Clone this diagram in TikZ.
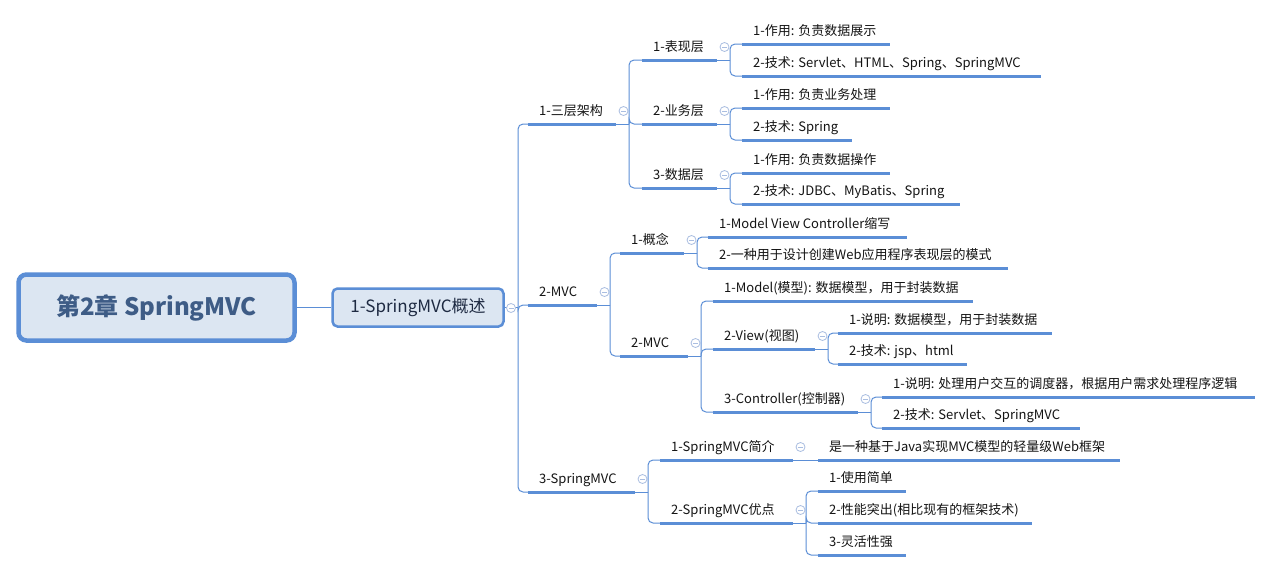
\documentclass[tikz,border=0pt]{standalone}
\usepackage{fontspec}
\setmainfont{Noto Sans CJK SC}
\usetikzlibrary{calc}
\definecolor{lineblue}{RGB}{91,142,214}
\definecolor{fillc}{RGB}{220,230,242}
\definecolor{rootText}{RGB}{62,92,134}
\definecolor{boxText}{RGB}{30,42,66}
\definecolor{textdark}{RGB}{20,20,20}
\definecolor{foldc}{RGB}{170,190,225}
\tikzset{
  conn/.style={draw=lineblue, line width=1pt},
  uline/.style={draw=lineblue, line width=3pt},
  topic/.style={anchor=south west, inner xsep=11pt, inner ysep=5pt, text height=10pt, text depth=3pt,
    font=\fontsize{13}{15}\selectfont, text=textdark},
  rootbox/.style={draw=lineblue, line width=4.5pt, fill=fillc, rounded corners=8pt,
    minimum width=276pt, minimum height=66pt, font=\bfseries\fontsize{24}{28}\selectfont, text=rootText},
  subbox/.style={draw=lineblue, line width=2.5pt, fill=fillc, rounded corners=5pt,
    minimum width=171pt, minimum height=38pt, font=\fontsize{17}{20}\selectfont, text=boxText},
  foldpic/.pic={\draw[foldc, line width=0.8pt, fill=white] (0,0) circle (4.5);
    \draw[foldc, line width=0.8pt] (-2.5,0) -- (2.5,0);}
}
% #1 name, #2 left x, #3 underline y, #4 right x, #5 text
\newcommand\mmtopic[5]{\node[topic] (#1) at (#2,#3) {#5};
  \coordinate (#1-w) at (#2,#3); \coordinate (#1-e) at (#4,#3);
  \draw[uline] (#1-w) -- (#1-e);}
\newcommand\mmfold[1]{\pic at ($(#1-e)+(7.5,-13)$) {foldpic};}
\newcommand\mmtrunk[1]{\coordinate (#1-t) at ($(#1-e)+(13,0)$); \draw[conn] (#1-e) -- (#1-t);}
\newcommand\mmlink[2]{\draw[conn, rounded corners=5pt] (#1-t) |- (#2-w);}
\begin{document}
\begin{tikzpicture}[x=1pt, y=-1pt]
\fill[white] (0,0) rectangle (1268,573);
\useasboundingbox (0,0) rectangle (1268,573);

% root and level 0
\node[rootbox] (root) at (156.5,307.5) {第2章 SpringMVC};
\node[subbox] (s0) at (418,307.5) {1-SpringMVC概述};
\draw[conn] (root.east) -- (s0.west);
\coordinate (s0-t) at (518,307.5);
\draw[conn] (s0.east) -- (s0-t);
\pic at (511,308) {foldpic};

% level 1
\mmtopic{A}{528}{124}{616}{1-三层架构}
\mmtopic{B}{528}{305}{597}{2-MVC}
\mmtopic{C}{528}{492}{635}{3-SpringMVC}
\mmlink{s0}{A}\mmlink{s0}{B}\mmlink{s0}{C}
\mmfold{A}\mmfold{B}\mmfold{C}
\mmtrunk{A}\mmtrunk{B}\mmtrunk{C}

% under 1-三层架构
\mmtopic{A1}{642}{60}{717}{1-表现层}
\mmtopic{A2}{642}{124}{717}{2-业务层}
\mmtopic{A3}{642}{188}{717}{3-数据层}
\mmlink{A}{A1}\mmlink{A}{A2}\mmlink{A}{A3}
\mmfold{A1}\mmfold{A2}\mmfold{A3}
\mmtrunk{A1}\mmtrunk{A2}\mmtrunk{A3}

\mmtopic{A11}{742}{44}{890}{1-作用: 负责数据展示}
\mmtopic{A12}{742}{76}{1041}{2-技术: Servlet、HTML、Spring、SpringMVC}
\mmlink{A1}{A11}\mmlink{A1}{A12}
\mmtopic{A21}{742}{108}{890}{1-作用: 负责业务处理}
\mmtopic{A22}{742}{140}{852}{2-技术: Spring}
\mmlink{A2}{A21}\mmlink{A2}{A22}
\mmtopic{A31}{742}{173}{890}{1-作用: 负责数据操作}
\mmtopic{A32}{742}{204}{960}{2-技术: JDBC、MyBatis、Spring}
\mmlink{A3}{A31}\mmlink{A3}{A32}

% under 2-MVC
\mmtopic{B1}{620}{253}{684}{1-概念}
\mmtopic{B2}{620}{356}{688}{2-MVC}
\mmlink{B}{B1}\mmlink{B}{B2}
\mmfold{B1}\mmfold{B2}
\mmtrunk{B1}\mmtrunk{B2}

\mmtopic{B11}{708}{237}{907}{1-Model View Controller缩写}
\mmtopic{B12}{708}{268}{1008}{2-一种用于设计创建Web应用程序表现层的模式}
\mmlink{B1}{B11}\mmlink{B1}{B12}

\mmtopic{B21}{713}{301}{973}{1-Model(模型): 数据模型，用于封装数据}
\mmtopic{B22}{713}{349}{815}{2-View(视图)}
\mmtopic{B23}{713}{412}{858}{3-Controller(控制器)}
\mmlink{B2}{B21}\mmlink{B2}{B22}\mmlink{B2}{B23}
\mmfold{B22}\mmfold{B23}
\mmtrunk{B22}\mmtrunk{B23}

\mmtopic{B221}{838}{333}{1052}{1-说明: 数据模型，用于封装数据}
\mmtopic{B222}{838}{364}{967}{2-技术: jsp、html}
\mmlink{B22}{B221}\mmlink{B22}{B222}
\mmtopic{B231}{882}{397}{1255}{1-说明: 处理用户交互的调度器，根据用户需求处理程序逻辑}
\mmtopic{B232}{882}{428}{1080}{2-技术: Servlet、SpringMVC}
\mmlink{B23}{B231}\mmlink{B23}{B232}

% under 3-SpringMVC
\mmtopic{C1}{660}{460}{793}{1-SpringMVC简介}
\mmtopic{C2}{660}{523}{793}{2-SpringMVC优点}
\mmlink{C}{C1}\mmlink{C}{C2}
\mmfold{C1}\mmfold{C2}
\mmtrunk{C2}

\mmtopic{C11}{818}{460}{1120}{是一种基于Java实现MVC模型的轻量级Web框架}
\draw[conn] (C1-e) -- (C11-w);
\mmtopic{C21}{818}{491}{906}{1-使用简单}
\mmtopic{C22}{818}{523}{1032}{2-性能突出(相比现有的框架技术)}
\mmtopic{C23}{818}{555}{906}{3-灵活性强}
\mmlink{C2}{C21}\mmlink{C2}{C22}\mmlink{C2}{C23}
\end{tikzpicture}
\end{document}
